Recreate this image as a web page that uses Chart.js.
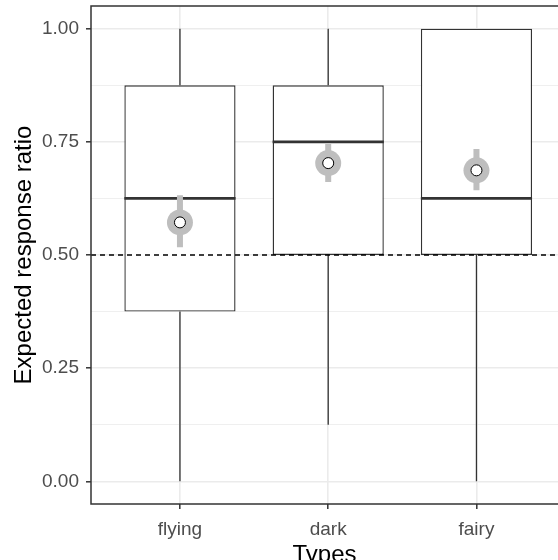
<!DOCTYPE html>
<html>
<head>
<meta charset="utf-8">
<script src="https://cdn.jsdelivr.net/npm/chart.js@4.4.1/dist/chart.umd.min.js"></script>
<style>
  html, body { margin: 0; padding: 0; background: #fff; overflow: hidden; }
  #wrap { width: 558px; height: 560px; position: relative; }
</style>
</head>
<body>
<div id="wrap"><canvas id="boxChart"></canvas></div>
<script>
// values
const types = ["flying", "dark", "fairy"];
const whiskerLow = [0, 0.125, 0];
const q1 = [0.375, 0.5, 0.5];
const medians = [0.625, 0.75, 0.625];
const q3 = [0.875, 0.875, 1.0];
const whiskerHigh = [1, 1, 1];
const means = [0.572, 0.703, 0.687];
const meanLow = [0.517, 0.661, 0.643];
const meanHigh = [0.632, 0.745, 0.734];
const refLine = 0.5;
const yMajor = [0, 0.25, 0.5, 0.75, 1];
const yMinor = [0.125, 0.375, 0.625, 0.875];

// axis limits (ggplot style expansion)
const X_MIN = 0.4;
const X_MAX = 3.55;
const BOX_HALF = 0.375;

const xPos = types.map((t, i) => i + 1);

// build segment lists with gaps (null y breaks the line)
const segments = (pairs) => {
  const out = [];
  pairs.forEach(([a, b]) => {
    out.push(a, b, { x: a.x, y: null });
  });
  return out;
};

const whiskerData = segments(
  xPos.flatMap((x, i) => [
    [{ x, y: whiskerLow[i] }, { x, y: q1[i] }],
    [{ x, y: q3[i] }, { x, y: whiskerHigh[i] }],
  ])
);
const medianData = segments(
  xPos.map((x, i) => [
    { x: x - BOX_HALF, y: medians[i] },
    { x: x + BOX_HALF, y: medians[i] },
  ])
);
const errData = segments(
  xPos.map((x, i) => [{ x, y: meanLow[i] }, { x, y: meanHigh[i] }])
);
const meanData = xPos.map((x, i) => ({ x, y: means[i] }));
const boxData = xPos.map((x, i) => ({ x, y: [q1[i], q3[i]] }));

// panel border drawn on top (left, top, bottom; right side is off canvas)
const panelBorder = {
  id: "panelBorder",
  afterDatasetsDraw(chart) {
    const { ctx, chartArea: a } = chart;
    ctx.save();
    ctx.strokeStyle = "#333333";
    ctx.lineWidth = 1.5;
    ctx.beginPath();
    ctx.moveTo(a.right + 2, a.top);
    ctx.lineTo(a.left, a.top);
    ctx.lineTo(a.left, a.bottom);
    ctx.lineTo(a.right + 2, a.bottom);
    ctx.stroke();
    ctx.restore();
  },
};

Chart.defaults.font.family = "'Liberation Sans', Arial, sans-serif";
Chart.defaults.animation = false;

const lineBase = {
  type: "line",
  pointRadius: 0,
  tension: 0,
  spanGaps: false,
  fill: false,
  borderCapStyle: "butt",
};

new Chart(document.getElementById("boxChart"), {
  type: "bar",
  data: {
    datasets: [
      {
        type: "scatter",
        data: meanData,
        pointRadius: 5.5,
        pointBackgroundColor: "#ffffff",
        pointBorderColor: "#000000",
        pointBorderWidth: 1,
        order: 0,
      },
      {
        type: "scatter",
        data: meanData,
        pointRadius: 13,
        pointBackgroundColor: "#bebebe",
        pointBorderWidth: 0,
        order: 1,
      },
      {
        ...lineBase,
        data: errData,
        borderColor: "#bebebe",
        borderWidth: 6,
        order: 2,
      },
      {
        ...lineBase,
        data: [
          { x: X_MIN, y: refLine },
          { x: X_MAX, y: refLine },
        ],
        borderColor: "#000000",
        borderWidth: 1.3,
        borderDash: [5, 4],
        order: 3,
      },
      {
        ...lineBase,
        data: medianData,
        borderColor: "#333333",
        borderWidth: 2.7,
        order: 4,
      },
      {
        ...lineBase,
        data: whiskerData,
        borderColor: "#333333",
        borderWidth: 1.3,
        order: 5,
      },
      {
        type: "bar",
        data: boxData,
        backgroundColor: "#ffffff",
        borderColor: "#333333",
        borderWidth: 1.4,
        borderSkipped: false,
        barPercentage: 0.75,
        categoryPercentage: 1,
        order: 6,
      },
    ],
  },
  options: {
    responsive: true,
    maintainAspectRatio: false,
    layout: { autoPadding: false, padding: { left: 0, top: 6, right: 0, bottom: 0 } },
    plugins: {
      legend: { display: false },
      tooltip: { enabled: false },
    },
    scales: {
      x: {
        type: "linear",
        min: X_MIN,
        max: X_MAX,
        offset: false,
        afterBuildTicks: (s) => {
          s.ticks = xPos.map((v) => ({ value: v }));
        },
        afterFit: (s) => {
          s.height = 56;
          s.paddingLeft = 0;
          s.paddingRight = 0;
        },
        border: { display: false },
        grid: {
          offset: false,
          color: "#ebebeb",
          lineWidth: 1.6,
          tickColor: "#333333",
          tickWidth: 1.5,
          tickLength: 5,
        },
        ticks: {
          autoSkip: false,
          maxRotation: 0,
          padding: 9,
          color: "#4d4d4d",
          font: { size: 19 },
          callback: (v) => types[v - 1],
        },
        title: {
          display: true,
          text: "Types",
          color: "#000000",
          font: { size: 24, lineHeight: 1 },
          padding: { top: 0, bottom: -7 },
        },
      },
      y: {
        type: "linear",
        min: -0.05,
        max: 1.05,
        afterBuildTicks: (s) => {
          s.ticks = [...yMajor, ...yMinor]
            .sort((a, b) => a - b)
            .map((v) => ({ value: v }));
        },
        afterFit: (s) => {
          s.width = 91;
          s.paddingTop = 0;
          s.paddingBottom = 0;
        },
        border: { display: false },
        grid: {
          color: "#ebebeb",
          lineWidth: (c) => (yMajor.includes(c.tick.value) ? 1.6 : 0.8),
          tickColor: (c) =>
            yMajor.includes(c.tick.value) ? "#333333" : "rgba(0,0,0,0)",
          tickWidth: 1.5,
          tickLength: 5,
        },
        ticks: {
          autoSkip: false,
          padding: 7,
          color: "#4d4d4d",
          font: { size: 19 },
          callback: (v) => (yMajor.includes(v) ? v.toFixed(2) : ""),
        },
        title: {
          display: true,
          text: "Expected response ratio",
          color: "#000000",
          font: { size: 24, lineHeight: 1.2 },
          padding: { top: 10, bottom: 0 },
        },
      },
    },
  },
  plugins: [panelBorder],
});
</script>
</body>
</html>
